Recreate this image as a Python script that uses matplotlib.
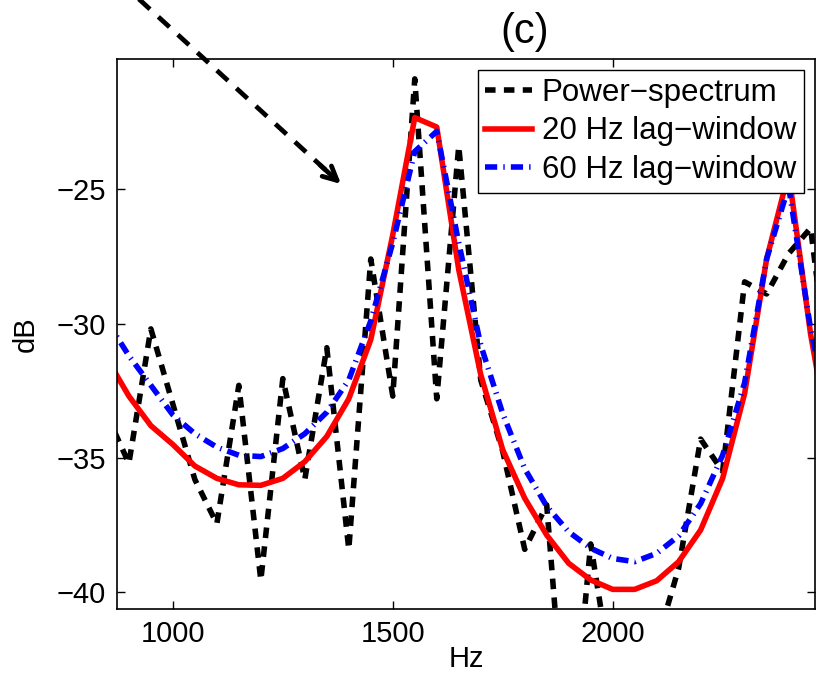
import numpy as np
import matplotlib
matplotlib.use("Agg")
import matplotlib.pyplot as plt
from matplotlib.lines import Line2D

plt.rcParams['font.family'] = ['Liberation Sans', 'DejaVu Sans']

# frequency grid (Hz), 50 Hz steps
freqs = [850, 900, 950, 1000, 1050, 1100, 1150, 1200, 1250, 1300,
         1350, 1400, 1450, 1500, 1550, 1600, 1650, 1700, 1750, 1800,
         1850, 1900, 1950, 2000, 2050, 2100, 2150, 2200, 2250, 2300,
         2350, 2400, 2450, 2500]

# raw power spectrum (dB)
power_db = [-33.4, -35.2, -30.2, -33.0, -35.8, -37.45, -32.3, -39.55, -32.05, -35.8,
            -30.9, -38.4, -27.6, -32.7, -20.9, -32.8, -23.4, -32.1, -34.75, -38.4,
            -36.75, -47.0, -38.2, -43.4, -46.0, -41.9, -39.1, -34.3, -35.5, -28.45,
            -28.9, -27.4, -26.45, -33.0]

# smoothed with 20 Hz lag-window
lag20_db = [-31.3, -32.7, -33.8, -34.5, -35.3, -35.76, -36.0, -36.02, -35.76, -35.14,
            -34.2, -32.8, -30.6, -26.7, -22.34, -22.69, -28.0, -31.9, -34.7, -36.5,
            -37.87, -38.92, -39.54, -39.89, -39.89, -39.57, -38.86, -37.68, -35.76, -32.6,
            -27.6, -24.4, -30.4, -35.0]

# smoothed with 60 Hz lag-window
lag60_db = [-29.9, -31.2, -32.3, -33.4, -34.1, -34.6, -34.9, -34.95, -34.65, -34.1,
            -33.3, -32.1, -29.9, -27.0, -23.6, -22.85, -27.0, -30.8, -33.35, -35.4,
            -36.8, -37.75, -38.36, -38.74, -38.86, -38.55, -37.9, -36.7, -34.9, -32.2,
            -27.6, -24.9, -30.2, -34.0]

labels = ["Power\u2212spectrum", "20 Hz lag\u2212window", "60 Hz lag\u2212window"]

fig = plt.figure(figsize=(8.2, 6.78), dpi=100)
ax = fig.add_axes([117 / 820, 69 / 678, 698 / 820, 550 / 678])

ax.plot(freqs, power_db, color='black', lw=4, dashes=(1.9, 1.5), label=labels[0])
ax.plot(freqs, lag20_db, color='red', lw=4, label=labels[1])
ax.plot(freqs, lag60_db, color='blue', lw=4, dashes=(2.2, 1.1, 0.25, 1.1), label=labels[2])

ax.set_xlim(873, 2460)
ax.set_ylim(-40.62, -20.16)
ax.set_xticks([1000, 1500, 2000])
ax.set_yticks([-40, -35, -30, -25])
ax.tick_params(direction='in', length=6, width=1, labelsize=21,
               top=True, right=True, pad=8)
for s in ax.spines.values():
    s.set_linewidth(1.2)

ax.set_xlabel("Hz", fontsize=21, labelpad=-2)
ax.set_ylabel("dB", fontsize=21, labelpad=12)

leg = ax.legend(loc='upper right', fontsize=22.5, fancybox=False, framealpha=1,
                edgecolor='black', borderaxespad=0.35, handlelength=1.5,
                handletextpad=0.3, labelspacing=0.28, borderpad=0.25)
leg.get_frame().set_linewidth(1.0)

# panel label, placed off-centre like the original
fig.text(525 / 820, 1 - 32 / 678, "(c)", fontsize=30, ha='center', va='center')

# dashed pointer arrow in the top-left corner
H = 678
fig.add_artist(Line2D([129 / 820, 330 / 820], [(H + 10) / H, (H - 174) / H],
                      transform=fig.transFigure, color='black', lw=3.4,
                      dashes=(3.2, 2.4)))
ax.annotate("", xy=(341, H - 184), xycoords='figure pixels',
            xytext=(320, H - 165), textcoords='figure pixels',
            arrowprops=dict(arrowstyle='->,head_length=1.0,head_width=0.5',
                            color='black', lw=3.4, shrinkA=0, shrinkB=0))

fig.savefig("out.png", dpi=100)
